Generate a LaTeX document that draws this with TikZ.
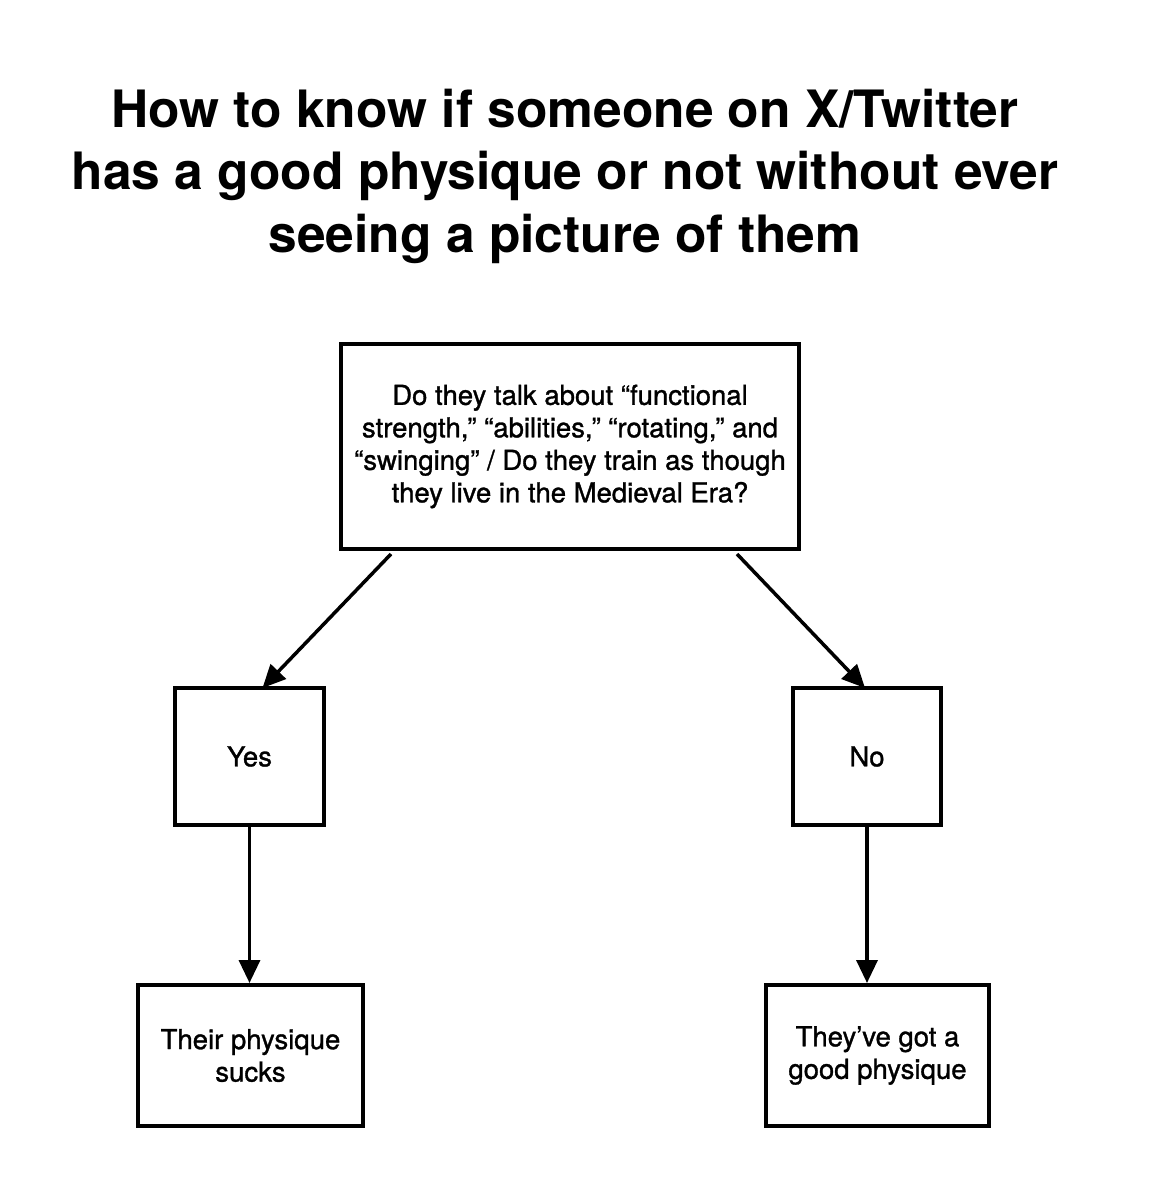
\documentclass[tikz,border=0pt]{standalone}
\usepackage{fontspec}
\setmainfont{TeX Gyre Heros}
\newfontfamily\mediumfont[FakeBold=1.2]{TeX Gyre Heros}
\usetikzlibrary{arrows.meta}

\begin{document}
\begin{tikzpicture}[x=1pt, y=-1pt,
    chartbox/.style={draw, line width=4pt, align=center, inner sep=0pt,
      font=\mediumfont\fontsize{27.5}{32.5}\selectfont},
    flowarrow/.style={line width=3.5pt, -{Triangle[length=23pt, width=21pt]}}]
  \fill[white] (0,0) rectangle (1154,1200);
  \useasboundingbox (0,0) rectangle (1154,1200);
  % title
  \node (title) [align=center, font=\fontsize{51.5}{62.5}\selectfont\bfseries]
    at (565,176) {How to know if someone on X/Twitter\\
      has a good physique or not without ever\\
      seeing a picture of them};
  % question and answers
  \begin{scope}
    \node (question) [chartbox, minimum width=458pt, minimum height=205pt] at (570,446.5)
      {Do they talk about “functional\\
       strength,” “abilities,” “rotating,” and\\
       “swinging” / Do they train as though\\
       they live in the Medieval Era?};
    \node (yes) [chartbox, minimum width=149pt, minimum height=137pt] at (249.5,756.5) {Yes};
    \node (no)  [chartbox, minimum width=148pt, minimum height=137pt] at (867,756.5) {No};
    \node (bad)  [chartbox, minimum width=225pt, minimum height=141pt] at (250.5,1055.5)
      {Their physique\\sucks};
    \node (good) [chartbox, minimum width=223pt, minimum height=141pt] at (877.5,1055.5)
      {They’ve got a\\good physique};
  \end{scope}
  \draw[flowarrow] ([xshift=-179pt, yshift=-3pt]question.south) -- ([xshift=13pt, yshift=-2pt]yes.north);
  \draw[flowarrow] ([xshift=167pt, yshift=-3pt]question.south) -- ([xshift=-2pt, yshift=-2pt]no.north);
  \draw[flowarrow] (yes.south) -- (yes.south |- bad.north);
  \draw[flowarrow] (no.south) -- (no.south |- good.north);
\end{tikzpicture}
\end{document}
